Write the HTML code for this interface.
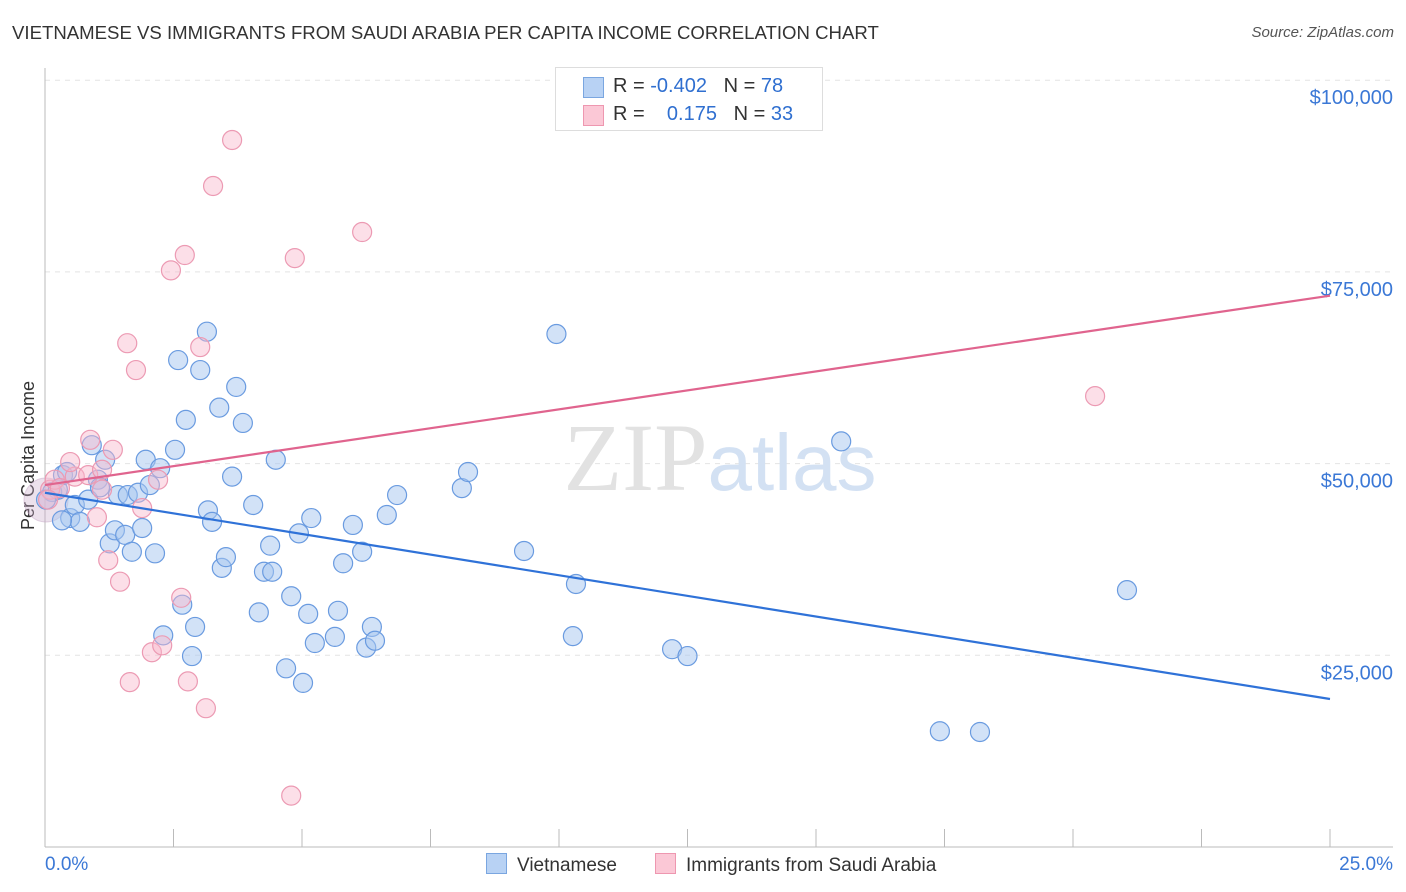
<!DOCTYPE html>
<html><head><meta charset="utf-8"><style>
body{margin:0;background:#fff;font-family:"Liberation Sans",sans-serif;}
#wrap{position:relative;width:1406px;height:892px;overflow:hidden;}
.t{position:absolute;white-space:nowrap;}
</style></head><body>
<div id="wrap">
<div class="t" style="left:12px;top:22px;font-size:18.6px;color:#333;">VIETNAMESE VS IMMIGRANTS FROM SAUDI ARABIA PER CAPITA INCOME CORRELATION CHART</div>
<div class="t" style="right:12px;top:24px;font-size:15px;color:#555;font-style:italic;">Source: ZipAtlas.com</div>
<div class="t" style="left:-46px;top:445px;font-size:18px;color:#333;transform:rotate(-90deg);">Per Capita Income</div>
<svg id="svg" width="1406" height="892" style="position:absolute;left:0;top:0"></svg>
<div style="position:absolute;left:555px;top:67px;width:266px;height:62px;border:1px solid #ddd;background:#fff;font-size:20px;color:#333;">
 <div style="position:absolute;left:27px;top:9px;width:19px;height:19px;background:#b8d2f4;border:1px solid #7aa6e0;"></div>
 <div class="t" style="left:57px;top:7px;">R = <span style="color:#2f6fd0">-0.402</span>&nbsp;&nbsp;&nbsp;N = <span style="color:#2f6fd0">78</span></div>
 <div style="position:absolute;left:27px;top:37px;width:19px;height:19px;background:#fbc8d6;border:1px solid #ee97b0;"></div>
 <div class="t" style="left:57px;top:35px;">R = &nbsp;&nbsp;&nbsp;<span style="color:#2f6fd0">0.175</span>&nbsp;&nbsp;&nbsp;N = <span style="color:#2f6fd0">33</span></div>
</div>
<div style="position:absolute;left:486px;top:853px;font-size:19px;color:#333;"><span style="display:inline-block;width:19px;height:19px;background:#b8d2f4;border:1px solid #7aa6e0;vertical-align:-3px;margin-right:10px;"></span>Vietnamese</div>
<div style="position:absolute;left:655px;top:853px;font-size:19px;color:#333;"><span style="display:inline-block;width:19px;height:19px;background:#fbc8d6;border:1px solid #ee97b0;vertical-align:-3px;margin-right:10px;"></span>Immigrants from Saudi Arabia</div>
</div>
<script>
const yTicks=[25000,50000,75000,100000];
const yTickLabels=["$25,000","$50,000","$75,000","$100,000"];
const xEndLabels=["0.0%","25.0%"];
const blueX=[0.14,0.25,0.35,0.43,0.49,0.58,0.68,0.84,0.91,1.03,1.07,1.17,1.26,1.36,1.42,1.56,1.61,1.69,1.81,1.89,1.96,2.04,2.14,2.24,2.53,2.59,2.74,2.67,2.86,2.92,3.02,3.15,3.17,3.25,3.39,3.44,3.52,3.64,3.72,3.85,4.05,4.16,4.26,4.38,4.42,4.49,4.69,4.79,4.94,5.02,5.12,5.18,5.25,5.64,5.70,5.80,5.99,6.17,6.25,6.36,6.42,6.65,6.85,8.11,8.23,9.32,9.95,10.27,10.33,12.20,12.50,15.49,17.41,18.19,21.05,2.30,0.02,0.33];
const blueY=[46.3,46.6,48.5,48.9,42.9,44.6,42.4,45.3,52.4,47.9,46.9,50.5,39.6,41.3,45.9,40.7,45.9,38.5,46.2,41.6,50.5,47.2,38.3,49.4,51.8,63.5,55.7,31.6,24.9,28.7,62.2,67.2,43.9,42.4,57.3,36.4,37.8,48.3,60.0,55.3,44.6,30.6,35.9,39.3,35.9,50.5,23.3,32.7,40.9,21.4,30.4,42.9,26.6,27.4,30.8,37.0,42.0,38.5,26.0,28.7,26.9,43.3,45.9,46.8,48.9,38.6,66.9,27.5,34.3,25.8,24.9,52.9,15.1,15.0,33.5,27.6,45.3,42.6];
const pinkX=[0.10,0.19,0.29,0.58,0.84,0.88,1.01,1.11,1.23,1.32,1.46,1.60,1.65,1.77,1.89,2.08,2.20,2.28,2.45,2.65,2.72,2.78,3.02,3.13,3.27,3.64,4.79,4.86,6.17,20.43,0.06,0.49,1.11];
const pinkY=[46.6,47.9,46.8,48.3,48.5,53.1,43.0,46.6,37.4,51.8,34.6,65.7,21.5,62.2,44.2,25.4,47.9,26.3,75.2,32.5,77.2,21.6,65.2,18.1,86.2,92.2,6.7,76.8,80.2,58.8,45.3,50.2,49.2];
const blueTrend=[46.2,19.3];
const pinkTrend=[47.2,71.9];
const X=v=>45+v/25*1285;
const Y=v=>847-v/25000*191.7;
const svgEl=document.getElementById('svg');
const NS='http://www.w3.org/2000/svg';
function mk(tag,attrs){const e=document.createElementNS(NS,tag);for(const k in attrs)e.setAttribute(k,attrs[k]);svgEl.appendChild(e);return e;}
yTicks.forEach((t,i)=>{
 const g=mk('line',{x1:45,x2:1393,y1:Y(t),y2:Y(t),stroke:'#e4e4e4','stroke-dasharray':'5,5'});
 
 
 const tx=mk('text',{x:1393,y:Y(t)+24,'text-anchor':'end','font-size':20,fill:'#3b78d6','font-family':'Liberation Sans'});
 tx.textContent=yTickLabels[i];
 
 
});
const yAxisLine=mk('line',{x1:45,x2:45,y1:68,y2:847,stroke:'#bbb'});


const xAxisLine=mk('line',{x1:45,x2:1393,y1:847,y2:847,stroke:'#bbb'});


for(let i=0;i<=10;i++){
 const tk=mk('line',{x1:X(i*2.5),x2:X(i*2.5),y1:829,y2:847,stroke:'#bbb'});
 
 
}
[[0,'start',45],[1,'end',1393]].forEach(([i,a,x])=>{
 const t=mk('text',{x:x,y:870,'text-anchor':a,'font-size':19,fill:'#3b78d6','font-family':'Liberation Sans'});
 t.textContent=xEndLabels[i];
 
 
});
const wm=mk('text',{x:720,y:490,'text-anchor':'middle','font-size':96,'font-family':'Liberation Serif',fill:'#e2e2e2'});


wm.innerHTML='ZIP<tspan fill="#d3e1f3" font-family="Liberation Sans" font-size="80">atlas</tspan>';
const big=mk('circle',{cx:46,cy:500,r:22,fill:'rgba(200,170,200,0.35)',stroke:'rgba(200,170,200,0.5)'});


blueX.forEach((v,i)=>{
 const c=mk('circle',{cx:X(v),cy:Y(blueY[i]*1000),r:9.5,fill:'rgba(165,198,240,0.5)',stroke:'#6a9be0','stroke-width':1.2});
 
 
});
pinkX.forEach((v,i)=>{
 const c=mk('circle',{cx:X(v),cy:Y(pinkY[i]*1000),r:9.5,fill:'rgba(248,185,205,0.45)',stroke:'#ec9ab3','stroke-width':1.2});
 
 
});
const bl=mk('line',{x1:X(0),y1:Y(blueTrend[0]*1000),x2:X(25),y2:Y(blueTrend[1]*1000),stroke:'#2f72d8','stroke-width':2.2});


const pl=mk('line',{x1:X(0),y1:Y(pinkTrend[0]*1000),x2:X(25),y2:Y(pinkTrend[1]*1000),stroke:'#e0648e','stroke-width':2.2});


</script>
</body></html>
